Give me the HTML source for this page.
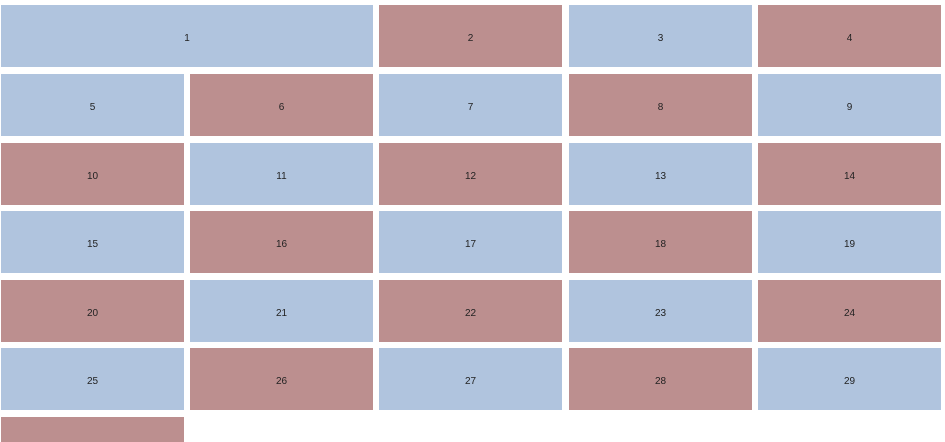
<!DOCTYPE html>
<html><head><meta charset="utf-8"><style>
html,body{margin:0;padding:0;width:945px;height:442px;overflow:hidden;background:#fff;font-family:"Liberation Sans",sans-serif;}
#g{position:relative;width:945px;height:442px;overflow:hidden;}
.c{position:absolute;display:flex;align-items:center;justify-content:center;font-size:10px;color:#222;box-sizing:border-box;padding-top:4px;overflow:hidden;}
.clip{align-items:flex-start;padding-top:40px;}
.b{background:#b0c4de;}.r{background:#bc8f8f;}
</style></head><body>
<div id="g"></div>
<script>
const labels=[];for(let i=1;i<=30;i++)labels.push(String(i));
const colX=[1,190,379,569,758],colW=183;
const rowY=[5,74,143,211,280,348,417],rowH=62;
const g=document.getElementById('g');
function add(lbl,x,w,y,h,cls){
 const d=document.createElement('div');
 d.className='c '+cls;
 d.style.left=x+'px';d.style.top=y+'px';d.style.width=w+'px';d.style.height=h+'px';
 d.textContent=lbl;
 
 
 g.appendChild(d);
}
add('1',1,372,5,62,'b');
add('2',379,183,5,62,'r');
add('3',569,183,5,62,'b');
add('4',758,183,5,62,'r');
let n=5;
for(let r=1;r<7;r++){for(let c=0;c<5;c++){if(n>30)break;
 const clipped=rowY[r]+rowH>442;
 add(labels[n-1],colX[c],colW,rowY[r],clipped?442-rowY[r]:rowH,((n%2===1)?'b':'r')+(clipped?' clip':''));n++;}}
</script>
</body></html>
